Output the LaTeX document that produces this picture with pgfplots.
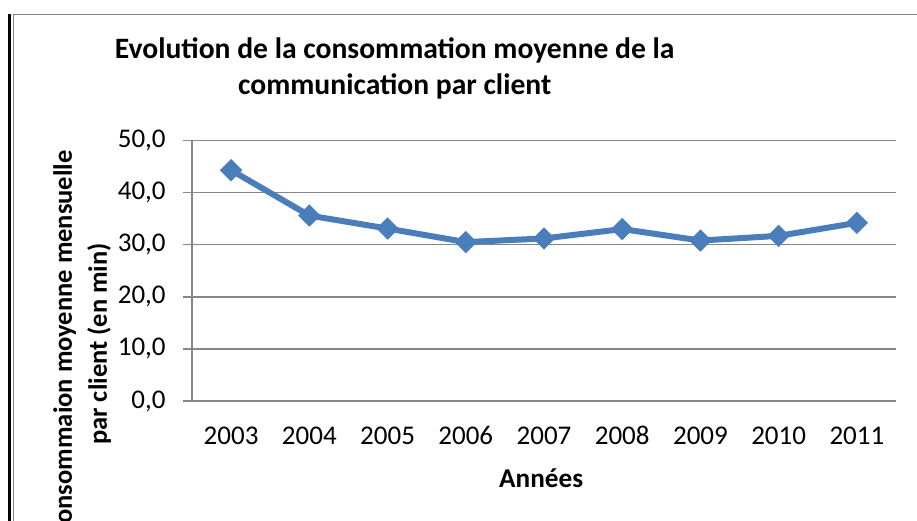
\documentclass[border=0pt]{standalone}
\usepackage{pgfplots}
\pgfplotsset{compat=1.18}
\usepackage{fontspec}
\setmainfont{Carlito}
\definecolor{xlblue}{HTML}{4A7EBB}
\definecolor{gridgray}{HTML}{868686}
\begin{document}
\begin{tikzpicture}
\useasboundingbox (0,0) rectangle (458.5bp,-260.5bp);
\clip (0,0) rectangle (458.5bp,-260.5bp);
\begin{scope}[x=0.5bp,y=-0.5bp]
\draw[black, line width=1.5bp] (9.5,14) -- (9.5,530);
\draw[gridgray, line width=0.6bp] (13.5,14) -- (13.5,530);
\draw[gridgray, line width=0.8bp] (13,14.5) -- (930,14.5);
\end{scope}
\begin{axis}[
  at={(96bp,-200.5bp)}, anchor=south west,
  scale only axis, width=352bp, height=130.25bp,
  xmin=-0.5, xmax=8.5, ymin=0, ymax=50,
  xtick={0,1,2,3,4,5,6,7,8},
  xticklabels={2003,2004,2005,2006,2007,2008,2009,2010,2011},
  ytick={0,10,20,30,40,50},
  axis x line*=bottom, axis y line*=left,
  axis line style={-, gridgray, line width=0.75bp},
  ymajorgrids, major grid style={gridgray, line width=0.75bp},
  tick align=outside, major tick length=4.5bp,
  ytick style={gridgray, line width=0.75bp},
  xtick style={draw=none},
  /pgf/number format/assume math mode=true,
  yticklabel style={/pgf/number format/.cd, fixed, fixed zerofill, precision=1, use comma, /tikz/.cd,
     font=\fontsize{13.5bp}{16bp}\selectfont, anchor=east, inner sep=0pt, xshift=-8.5bp},
  xticklabel style={font=\fontsize{13.5bp}{16bp}\selectfont, anchor=base, inner sep=0pt, yshift=-17bp},
  title={Evolution de la consommation moyenne de la\\communication par client},
  title style={at={(axis description cs:0.288,1.232)}, anchor=center, align=center, yshift=0pt,
     font=\bfseries\fontsize{14.8bp}{18bp}\selectfont},
  xlabel={Années},
  xlabel style={at={(axis description cs:0.496,-0.296)}, anchor=center,
     font=\bfseries\fontsize{13.6bp}{16bp}\selectfont},
  ylabel={Consommaion moyenne mensuelle\\par client (en min)},
  ylabel style={at={(axis description cs:-0.156,0.219)}, anchor=center, align=center, rotate=0,
     font=\bfseries\fontsize{13.25bp}{17.5bp}\selectfont},
  clip=false,
]
\addplot[xlblue, line width=3bp, mark=square*, mark size=3.7bp,
  mark options={rotate=45, fill=xlblue, draw=xlblue, line width=0.5bp}]
  coordinates {(0,44.3) (1,35.6) (2,33.1) (3,30.5) (4,31.2) (5,33.0) (6,30.8) (7,31.7) (8,34.2)};
\end{axis}
\end{tikzpicture}
\end{document}
